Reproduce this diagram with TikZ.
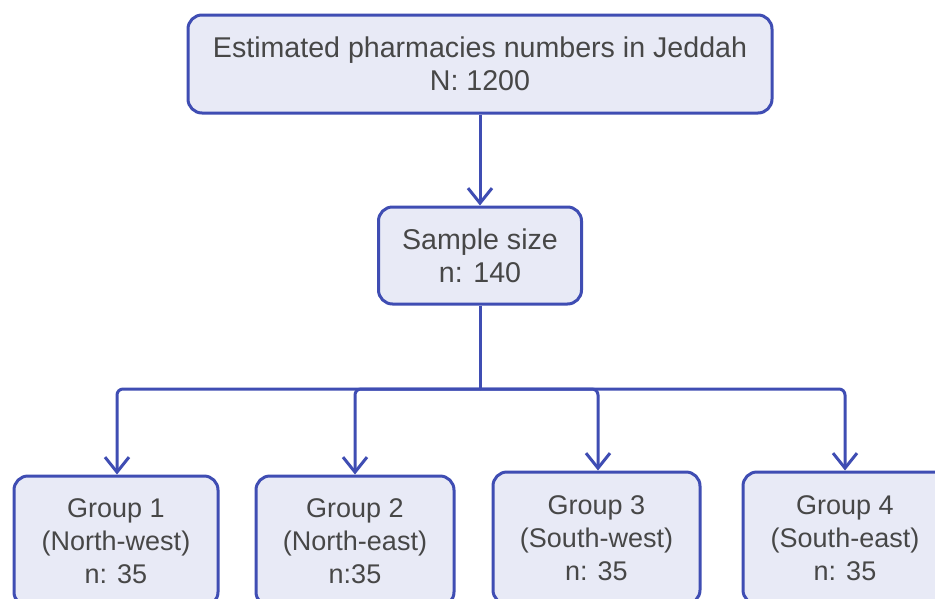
\documentclass[tikz,border=0pt]{standalone}
\usepackage{fontspec}
\setmainfont{Liberation Sans}
\usetikzlibrary{arrows.meta}
\definecolor{boxfill}{HTML}{E8EAF6}
\definecolor{boxline}{HTML}{3F4DB3}
\definecolor{txt}{HTML}{474747}
\tikzset{
  box/.style={draw=boxline, fill=boxfill, line width=3pt, rounded corners=14pt,
    align=center, text=txt, font=\fontsize{27}{33}\selectfont, inner sep=0pt},
  bigtext/.style={font=\fontsize{28.6}{33}\selectfont},
  conn/.style={draw=boxline, line width=3pt, rounded corners=6pt,
    -{Straight Barb[length=15pt,width=24pt,line width=3pt]}},
  plain/.style={draw=boxline, line width=3pt}
}
\begin{document}
\begin{tikzpicture}[x=1pt,y=-1pt]
\useasboundingbox (0,0) rectangle (935,598);
\clip (0,0) rectangle (935,598);
\fill[white] (0,0) rectangle (935,598);
\node[box, bigtext, minimum width=584pt, minimum height=98pt] (top) at (480,64)
  {Estimated pharmacies numbers in Jeddah\\N: 1200};
\node[box, bigtext, minimum width=203pt, minimum height=97pt] (sample) at (480,255.5)
  {Sample size\\n: 140};
\node[box, minimum width=204pt, minimum height=130pt] (g1) at (116,541)
  {Group 1\\(North-west)\\n: 35};
\node[box, minimum width=198pt, minimum height=130pt] (g2) at (355,541)
  {Group 2\\(North-east)\\n:35};
\node[box, minimum width=207pt, minimum height=132pt] (g3) at (596.5,538)
  {Group 3\\(South-west)\\n: 35};
\node[box, minimum width=204pt, minimum height=132pt] (g4) at (845,538)
  {Group 4\\(South-east)\\n: 35};
\coordinate (j) at (480,389);
\draw[conn] (top.south) -- (sample.north);
\draw[plain] (sample.south) -- (j);
\draw[conn] (j) -| (g1.north -| 117,0);
\draw[conn] (j) -| (g2.north);
\draw[conn] (j) -| (g3.north -| 598,0);
\draw[conn] (j) -| (g4.north);
\end{tikzpicture}
\end{document}
